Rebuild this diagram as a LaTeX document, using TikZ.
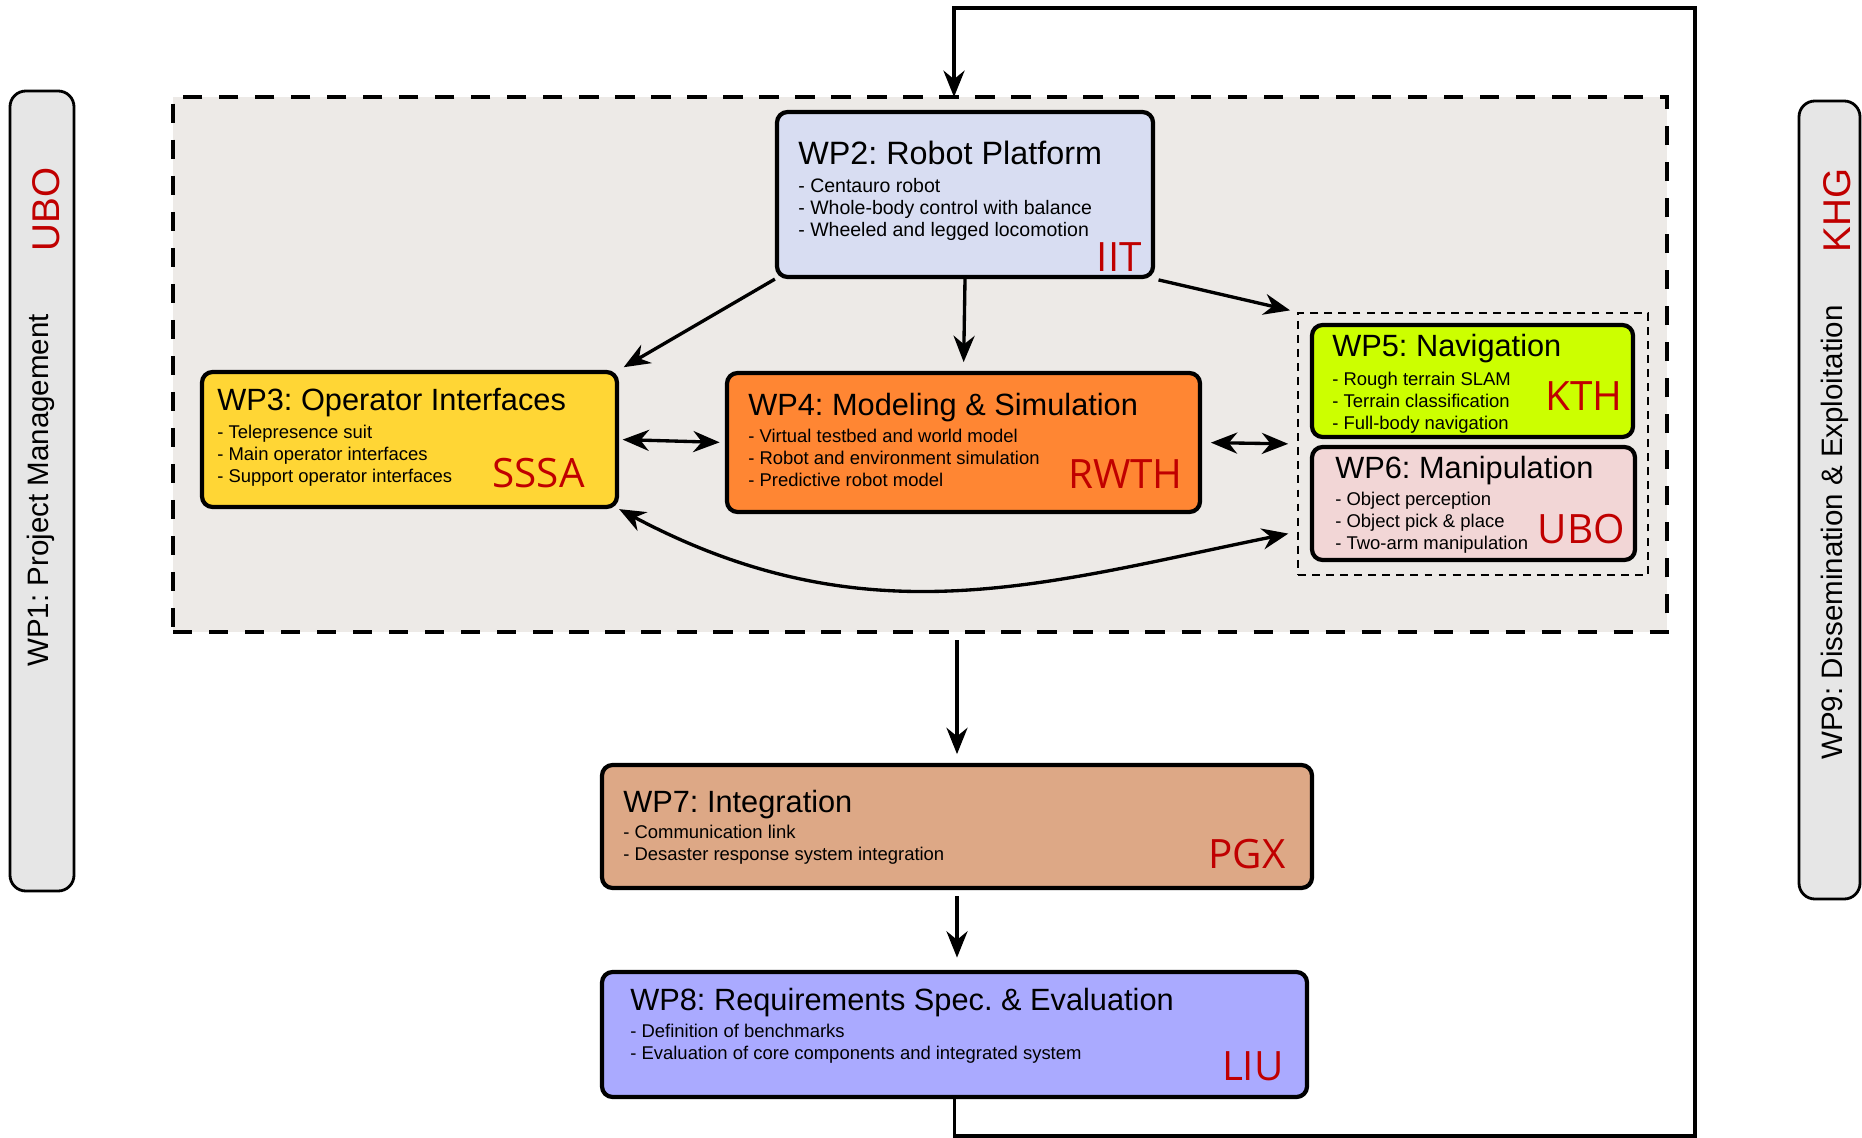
\documentclass[tikz,border=0pt]{standalone}
\usepackage{fontspec}
\setmainfont{Liberation Sans}
\newfontfamily\partnerfont{Open Sans}
\usetikzlibrary{arrows.meta,fit}
\frenchspacing

\definecolor{coregray}{HTML}{EDEAE7}
\definecolor{bargray}{HTML}{E6E6E6}
\definecolor{partnerred}{HTML}{C00000}
\definecolor{wptwo}{HTML}{D8DDF2}
\definecolor{wpthree}{HTML}{FFD635}
\definecolor{wpfour}{HTML}{FF8633}
\definecolor{wpfive}{HTML}{CCFF00}
\definecolor{wpsix}{HTML}{F2D6D6}
\definecolor{wpseven}{HTML}{DDA886}
\definecolor{wpeight}{HTML}{AAAAFF}

\tikzset{
  wpbox/.style={draw, line width=2.4pt, rounded corners=6pt, inner sep=0pt},
  wpbar/.style={draw, line width=1.6pt, rounded corners=9pt, inner sep=0pt, fill=bargray},
  wptitle/.style={anchor=base west, inner sep=0pt, font=\fontsize{17.5}{20}\selectfont},
  wpitem/.style={anchor=base west, inner sep=0pt, font=\fontsize{10.5}{12}\selectfont},
  partner/.style={anchor=base east, inner sep=0pt, text=partnerred, font=\partnerfont\fontsize{23}{26}\selectfont},
  bartext/.style={anchor=base west, inner sep=0pt, rotate=90, font=\fontsize{16.8}{19}\selectfont},
  barpartner/.style={anchor=base west, inner sep=0pt, rotate=90, text=partnerred, font=\fontsize{22}{24}\selectfont},
  link/.style={line width=1.9pt, -{Stealth[length=15pt, width=12pt]}},
  twolink/.style={line width=1.9pt, {Stealth[length=15pt, width=12pt]}-{Stealth[length=15pt, width=12pt]}},
}

\begin{document}
\begin{tikzpicture}[x=0.02cm, y=-0.02cm]
    \useasboundingbox (0,0) rectangle (1862,1138);

    % grouped work packages
    \node[draw, fill=coregray, line width=2.2pt, dash pattern=on 11pt off 9.5pt, inner sep=0pt,
          fit={(173,97) (1667,632)}] (core) {};
    \node[draw, line width=1.2pt, dash pattern=on 4.5pt off 3.5pt, inner sep=0pt,
          fit={(1298,313) (1648,575)}] (navmanip) {};

    % side bars
    \node[wpbar, fit={(10,91) (74,891)}] (wp1) {};
    \node[bartext] (wp1title) at (48,667) {WP1: Project Management};
    \node[barpartner] (wp1partner) at (59,252) {UBO};
    \node[wpbar, fit={(1799,101) (1860,899)}] (wp9) {};
    \node[bartext] (wp9title) at (1842,760) {WP9: Dissemination \& Exploitation};
    \node[barpartner] (wp9partner) at (1850,253) {KHG};

    % WP2
    \node[wpbox, fill=wptwo, fit={(777,112) (1153,277)}] (wp2) {};
    \node[wptitle, font=\fontsize{18.4}{20}\selectfont] (wp2title) at (798,165) {WP2: Robot Platform};
    \foreach \txt [count=\i] in {Centauro robot, Whole-body control with balance, Wheeled and legged locomotion}
        \node[wpitem, font=\fontsize{11.1}{12}\selectfont] (wp2item\i) at (798,171+22*\i) {- \txt};
    \node[partner] (wp2partner) at (1142,272) {IIT};

    % WP3
    \node[wpbox, fill=wpthree, fit={(202,372) (617,507)}] (wp3) {};
    \node[wptitle] (wp3title) at (217,410) {WP3: Operator Interfaces};
    \foreach \txt [count=\i] in {Telepresence suit, Main operator interfaces, Support operator interfaces}
        \node[wpitem] (wp3item\i) at (217,416+22*\i) {- \txt};
    \node[partner] (wp3partner) at (585,487) {SSSA};

    % WP4
    \node[wpbox, fill=wpfour, fit={(727,373) (1200,512)}] (wp4) {};
    \node[wptitle] (wp4title) at (748,415) {WP4: Modeling \& Simulation};
    \foreach \txt [count=\i] in {Virtual testbed and world model, Robot and environment simulation, Predictive robot model}
        \node[wpitem] (wp4item\i) at (748,420+22*\i) {- \txt};
    \node[partner] (wp4partner) at (1183,488) {RWTH};

    % WP5
    \node[wpbox, fill=wpfive, fit={(1312,325) (1633,437)}] (wp5) {};
    \node[wptitle] (wp5title) at (1332,357) {WP5: Navigation};
    \foreach \txt [count=\i] in {Rough terrain SLAM, Terrain classification, Full-body navigation}
        \node[wpitem] (wp5item\i) at (1332,363+22*\i) {- \txt};
    \node[partner] (wp5partner) at (1623,410) {KTH};

    % WP6
    \node[wpbox, fill=wpsix, fit={(1312,447) (1635,560)}] (wp6) {};
    \node[wptitle] (wp6title) at (1335,478) {WP6: Manipulation};
    \foreach \txt [count=\i] in {Object perception, Object pick \& place, Two-arm manipulation}
        \node[wpitem] (wp6item\i) at (1335,483+22*\i) {- \txt};
    \node[partner] (wp6partner) at (1625,543) {UBO};

    % WP7
    \node[wpbox, fill=wpseven, fit={(602,765) (1312,888)}] (wp7) {};
    \node[wptitle] (wp7title) at (623,812) {WP7: Integration};
    \foreach \txt [count=\i] in {Communication link, Desaster response system integration}
        \node[wpitem] (wp7item\i) at (623,816+22*\i) {- \txt};
    \node[partner] (wp7partner) at (1286,868) {PGX};

    % WP8
    \node[wpbox, fill=wpeight, fit={(602,972) (1307,1097)}] (wp8) {};
    \node[wptitle] (wp8title) at (630,1010) {WP8: Requirements Spec. \& Evaluation};
    \foreach \txt [count=\i] in {Definition of benchmarks, Evaluation of core components and integrated system}
        \node[wpitem] (wp8item\i) at (630,1015+22*\i) {- \txt};
    \node[partner] (wp8partner) at (1284,1080) {LIU};

    % connectors
    \draw[link, shorten >=3pt] (wp2.south west) -- (wp3.north east);
    \draw[link, shorten >=5pt] (wp2.south) -- (wp4.north);
    \draw[link, shorten <=2pt, shorten >=4pt] (wp2.south east) -- (navmanip.north west);
    \draw[twolink, shorten <=2pt, shorten >=3pt] (wp3.east) -- (wp4.west);
    \draw[twolink, shorten <=5pt, shorten >=5pt] (wp4.east) -- (navmanip.west);
    \draw[twolink, shorten >=5pt] (wp3.south east) .. controls +(28:280) and +(168.5:260) .. ([yshift=-50pt]navmanip.west);
    \draw[link, shorten <=3.5pt, shorten >=5pt] (core.south -| wp7.north) -- (wp7.north);
    \draw[link, shorten <=3.5pt, shorten >=7pt] (wp7.south) -- (wp7.south |- wp8.north);

    % feedback loop
    \coordinate (loopbottom) at (1695,1136);
    \coordinate (looptop) at (1695,8);
    \coordinate (loopin) at (954,97);
    \draw[link, line width=2.2pt] (wp8.south) |- (loopbottom) -- (looptop) -| (loopin);
\end{tikzpicture}
\end{document}
